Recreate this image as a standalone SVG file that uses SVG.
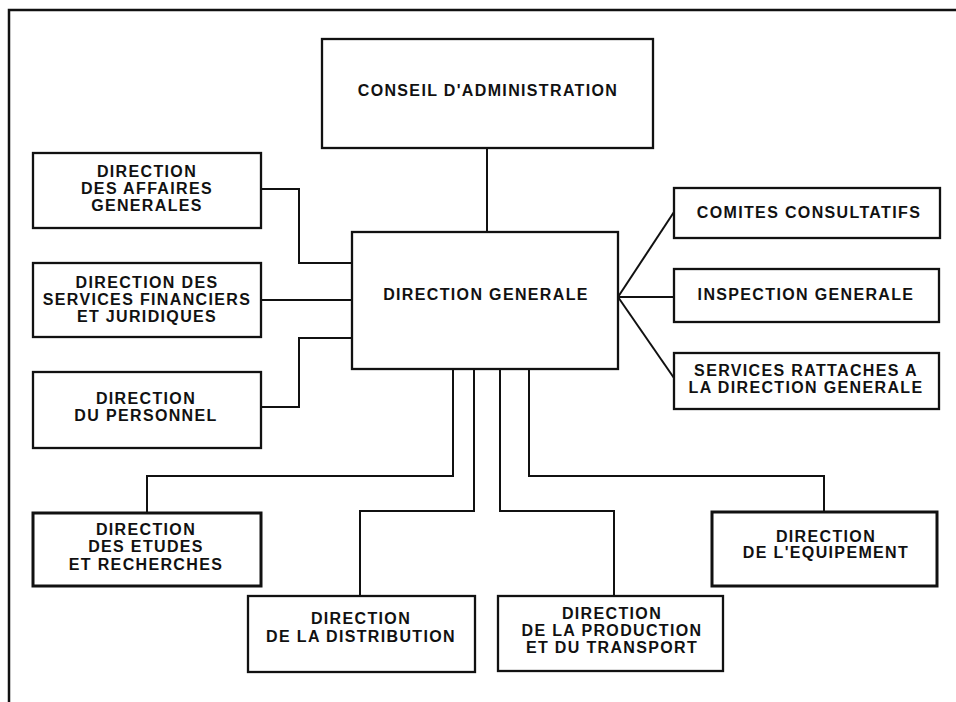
<svg xmlns="http://www.w3.org/2000/svg" width="956" height="702" viewBox="0 0 956 702">
<style>
.box{fill:#fff;stroke:#111;stroke-width:2.3}
.thick{stroke-width:3}
.t{font-family:"Liberation Sans",Arial,Helvetica,sans-serif;font-weight:bold;font-size:16px;letter-spacing:1.35px;fill:#111;text-anchor:middle}
.c{fill:none;stroke:#111;stroke-width:2}
</style>
<rect width="956" height="702" fill="#fff"/>
<path d="M9,702 V10 H956" fill="none" stroke="#111" stroke-width="2.5"/>
<g id="connectors">
<path class="c" d="M487,148 V232"/>
<path class="c" d="M261,189 H299 V263 H352"/>
<path class="c" d="M261,300 H352"/>
<path class="c" d="M352,338 H299 V407 H261"/>
<path class="c" d="M618,297 L674,212"/>
<path class="c" d="M618,297 H674"/>
<path class="c" d="M618,297 L674,378"/>
<path class="c" d="M453,369 V476 H147 V513"/>
<path class="c" d="M474,369 V511 H360 V596"/>
<path class="c" d="M500,369 V511 H614 V596"/>
<path class="c" d="M529,369 V476 H824 V512"/>
</g>
<g id="conseil">
<rect class="box" x="322" y="39" width="331" height="109"/>
<text class="t" x="488" y="96">CONSEIL D'ADMINISTRATION</text>
</g>
<g id="direction-generale">
<rect class="box" x="352" y="232" width="266" height="137"/>
<text class="t" x="486" y="300">DIRECTION GENERALE</text>
</g>
<g id="affaires-generales">
<rect class="box" x="33" y="153" width="228" height="75"/>
<text class="t" x="147" y="177">DIRECTION</text>
<text class="t" x="147" y="194">DES AFFAIRES</text>
<text class="t" x="147" y="211">GENERALES</text>
</g>
<g id="services-financiers">
<rect class="box" x="33" y="263" width="228" height="74"/>
<text class="t" x="147" y="288">DIRECTION DES</text>
<text class="t" x="147" y="305">SERVICES FINANCIERS</text>
<text class="t" x="147" y="322">ET JURIDIQUES</text>
</g>
<g id="personnel">
<rect class="box" x="33" y="372" width="228" height="76"/>
<text class="t" x="146" y="404">DIRECTION</text>
<text class="t" x="146" y="421">DU PERSONNEL</text>
</g>
<g id="comites">
<rect class="box" x="674" y="188" width="266" height="50"/>
<text class="t" x="809" y="218">COMITES CONSULTATIFS</text>
</g>
<g id="inspection">
<rect class="box" x="674" y="269" width="265" height="53"/>
<text class="t" x="806" y="300">INSPECTION GENERALE</text>
</g>
<g id="services-rattaches">
<rect class="box" x="674" y="353" width="265" height="56"/>
<text class="t" x="806" y="376">SERVICES RATTACHES A</text>
<text class="t" x="806" y="393">LA DIRECTION GENERALE</text>
</g>
<g id="etudes">
<rect class="box thick" x="33" y="513" width="228" height="73"/>
<text class="t" x="146" y="535">DIRECTION</text>
<text class="t" x="146" y="552">DES ETUDES</text>
<text class="t" x="146" y="570">ET RECHERCHES</text>
</g>
<g id="distribution">
<rect class="box" x="248" y="596" width="227" height="76"/>
<text class="t" x="361" y="624">DIRECTION</text>
<text class="t" x="361" y="642">DE LA DISTRIBUTION</text>
</g>
<g id="production">
<rect class="box" x="498" y="596" width="225" height="75"/>
<text class="t" x="612" y="619">DIRECTION</text>
<text class="t" x="612" y="636">DE LA PRODUCTION</text>
<text class="t" x="612" y="653">ET DU TRANSPORT</text>
</g>
<g id="equipement">
<rect class="box thick" x="712" y="512" width="225" height="74"/>
<text class="t" x="826" y="542">DIRECTION</text>
<text class="t" x="826" y="558">DE L'EQUIPEMENT</text>
</g>
</svg>
